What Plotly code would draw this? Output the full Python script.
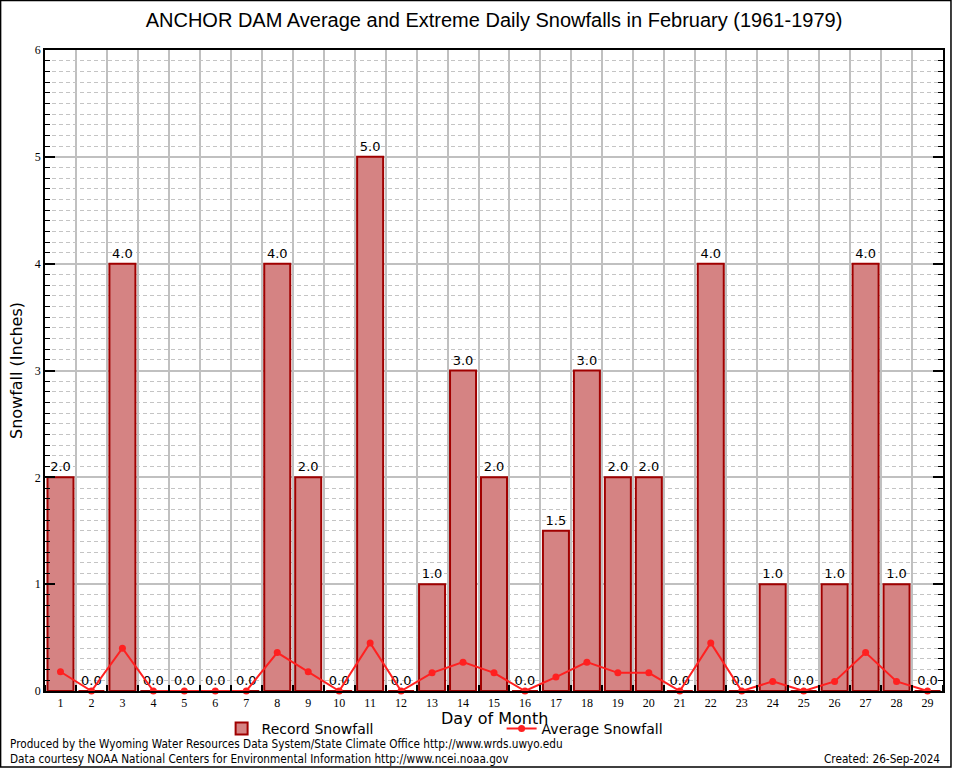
import plotly.graph_objects as go

days = list(range(1, 30))
day_labels = [str(d) for d in days]
record_snowfall = [2.0, 0.0, 4.0, 0.0, 0.0, 0.0, 0.0, 4.0, 2.0, 0.0,
                   5.0, 0.0, 1.0, 3.0, 2.0, 0.0, 1.5, 3.0, 2.0, 2.0,
                   0.0, 4.0, 0.0, 1.0, 0.0, 1.0, 4.0, 1.0, 0.0]
average_snowfall = [0.18, 0.0, 0.40, 0.0, 0.0, 0.0, 0.0, 0.36, 0.18, 0.0,
                    0.45, 0.0, 0.17, 0.27, 0.17, 0.0, 0.13, 0.27, 0.17, 0.17,
                    0.0, 0.45, 0.0, 0.09, 0.0, 0.09, 0.36, 0.09, 0.0]

W, H = 954, 768
L, R, T, B = 45, 945, 50, 691
pw, ph = R - L, B - T

def px(x):
    return (x - L) / pw

def py(y):
    return (B - y) / ph

fig = go.Figure()
fig.add_trace(go.Bar(
    x=days, y=record_snowfall, name="Record Snowfall", width=0.84,
    marker=dict(color="#d89090", line=dict(color="#a00000", width=2),
                pattern=dict(shape=".", size=2, solidity=0.5,
                             fgcolor="#a00000", bgcolor="#e4a8a8", fillmode="overlay")),
    text=[f"{v:.1f}" for v in record_snowfall], textposition="outside",
    textfont=dict(family="DejaVu Sans", size=13, color="black"),
    cliponaxis=False,
))
fig.add_trace(go.Scatter(
    x=days, y=average_snowfall, name="Average Snowfall", mode="lines+markers",
    line=dict(color="#ff2020", width=2),
    marker=dict(color="#ff2020", size=7, symbol="circle"),
    cliponaxis=False,
))

fig.update_layout(
    width=W, height=H,
    margin=dict(l=L, r=W - R, t=T, b=H - B),
    paper_bgcolor="white", plot_bgcolor="white",
    title=dict(text="ANCHOR DAM Average and Extreme Daily Snowfalls in February (1961-1979)",
               xref="paper", x=0.5, xanchor="center", y=1 - 20 / H, yanchor="middle",
               font=dict(family="Liberation Sans", size=20, color="black")),
    showlegend=True,
    legend=dict(orientation="h", x=px(222), xanchor="left", y=py(729), yanchor="middle",
                font=dict(family="DejaVu Sans", size=14, color="black"),
                bgcolor="rgba(0,0,0,0)", entrywidth=235, entrywidthmode="pixels"),
    bargap=0.16,
)

fig.update_xaxes(
    range=[0.5, 29.5], tickmode="array", tickvals=days, ticktext=day_labels,
    showgrid=False, ticks="", showline=True, linecolor="black", linewidth=1.5, mirror=True,
    tickfont=dict(family="Liberation Serif", size=12, color="black"),
    minor=dict(tick0=0.5, dtick=1, showgrid=True, gridcolor="#c0c0c0", gridwidth=2,
               ticks="inside", ticklen=6, tickcolor="black", tickwidth=1.5),
    zeroline=False,
)
fig.update_yaxes(
    range=[0, 6], dtick=1, tick0=0,
    showgrid=True, gridcolor="#c0c0c0", gridwidth=2,
    ticks="inside", ticklen=10, tickcolor="black", tickwidth=1.5,
    showline=True, linecolor="black", linewidth=1.5, mirror="ticks",
    tickfont=dict(family="Liberation Serif", size=12, color="black"),
    title=dict(text="Snowfall (Inches)", standoff=8, font=dict(family="DejaVu Sans", size=16, color="black")),
    minor=dict(dtick=0.1, showgrid=True, gridcolor="#c4c4c4", gridwidth=1, griddash="4px,3px",
               ticks="inside", ticklen=5, tickcolor="black", tickwidth=1),
    zeroline=False,
)

fig.add_annotation(text="Day of Month", xref="paper", yref="paper", x=0.5, y=py(718),
                   xanchor="center", yanchor="middle", showarrow=False,
                   font=dict(family="DejaVu Sans", size=16, color="black"))

foot = dict(family="DejaVu Sans Condensed", size=11.7, color="black")
fig.add_annotation(text="Produced by the Wyoming Water Resources Data System/State Climate Office http://www.wrds.uwyo.edu",
                   xref="paper", yref="paper", x=px(8), y=py(744), xanchor="left", yanchor="middle",
                   showarrow=False, font=foot)
fig.add_annotation(text="Data courtesy NOAA National Centers for Environmental Information http://www.ncei.noaa.gov",
                   xref="paper", yref="paper", x=px(8), y=py(759), xanchor="left", yanchor="middle",
                   showarrow=False, font=foot)
fig.add_annotation(text="Created: 26-Sep-2024",
                   xref="paper", yref="paper", x=px(944), y=py(759), xanchor="right", yanchor="middle",
                   showarrow=False, font=foot)
fig.add_shape(type="rect", xref="paper", yref="paper",
              x0=px(0.5), x1=px(953), y0=py(767), y1=py(0.5),
              line=dict(color="black", width=1.5), fillcolor="rgba(0,0,0,0)", layer="above")

fig.write_html("out.html", config={"displayModeBar": False},
               post_script="document.body.style.margin='0';document.body.style.overflow='hidden';")
